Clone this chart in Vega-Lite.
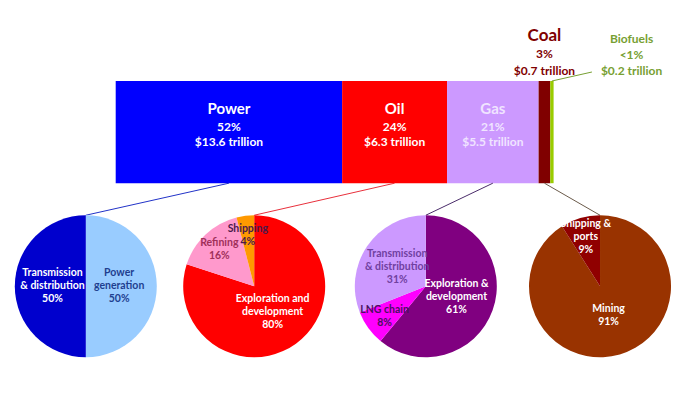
{
  "$schema": "https://vega.github.io/schema/vega-lite/v6.json",
  "width": 685,
  "height": 400,
  "autosize": {"type": "none"},
  "padding": 0,
  "background": "white",
  "config": {"view": {"stroke": null}, "font": "Lato", "text": {"font": "Lato"}},
  "datasets": {
    "sectors": [
      {"sector": "Power", "order": 1, "tn": 13.6, "detail": "52%\n$13.6 trillion"},
      {"sector": "Oil", "order": 2, "tn": 6.3, "detail": "24%\n$6.3 trillion"},
      {"sector": "Gas", "order": 3, "tn": 5.5, "detail": "21%\n$5.5 trillion"},
      {"sector": "Coal", "order": 4, "tn": 0.7, "detail": "3%\n$0.7 trillion"},
      {"sector": "Biofuels", "order": 5, "tn": 0.2, "detail": "<1%\n$0.2 trillion"}
    ],
    "pies": [
      {"sector": "Power", "anchor": -1.796},
      {"sector": "Oil", "anchor": 8.318},
      {"sector": "Gas", "anchor": 18.625},
      {"sector": "Coal", "anchor": 29.088}
    ],
    "slices": [
      {"sector": "Power", "slice": "Power: Power generation", "order": 1, "pct": 50, "label": "Power\ngeneration\n50%"},
      {"sector": "Power", "slice": "Power: Transmission & distribution", "order": 2, "pct": 50, "label": "Transmission\n& distribution\n50%"},
      {"sector": "Oil", "slice": "Oil: Exploration and development", "order": 1, "pct": 80, "label": "Exploration and\ndevelopment\n80%"},
      {"sector": "Oil", "slice": "Oil: Refining", "order": 2, "pct": 16, "label": "Refining\n16%"},
      {"sector": "Oil", "slice": "Oil: Shipping", "order": 3, "pct": 4, "label": "Shipping\n4%"},
      {"sector": "Gas", "slice": "Gas: Exploration & development", "order": 1, "pct": 61, "label": "Exploration &\ndevelopment\n61%"},
      {"sector": "Gas", "slice": "Gas: LNG chain", "order": 2, "pct": 8, "label": "LNG chain\n8%"},
      {"sector": "Gas", "slice": "Gas: Transmission & distribution", "order": 3, "pct": 31, "label": "Transmission\n& distribution\n31%"},
      {"sector": "Coal", "slice": "Coal: Mining", "order": 1, "pct": 91, "label": "Mining\n91%"},
      {"sector": "Coal", "slice": "Coal: Shipping & ports", "order": 2, "pct": 9, "label": "Shipping &\nports\n9%"}
    ]
  },
  "layer": [
    {
      "data": {"name": "sectors"},
      "mark": {"type": "bar", "height": 102.2},
      "encoding": {
        "x": {"field": "tn", "type": "quantitative", "stack": "zero", "scale": {"domain": [-6.949, 34.192], "nice": false, "zero": false}, "axis": null},
        "y": {"datum": "Total", "type": "nominal", "scale": {"type": "point", "domain": ["Total", "Breakdown"], "padding": 0.79745, "align": 0.53732}, "axis": null},
        "color": {"field": "sector", "type": "nominal", "scale": {"domain": ["Power", "Oil", "Gas", "Coal", "Biofuels"], "range": ["#0000FF", "#FF0000", "#CC99FF", "#800000", "#99CC00"]}, "legend": null},
        "order": {"field": "order", "type": "quantitative"}
      }
    },
    {
      "data": {"name": "sectors"},
      "transform": [
        {"stack": "tn", "groupby": [], "sort": [{"field": "order", "order": "ascending"}], "as": ["t0", "t1"]},
        {"fold": ["t0", "t1"], "as": ["edge", "pos"]},
        {"aggregate": [{"op": "mean", "field": "pos", "as": "mid"}], "groupby": ["sector", "order", "detail"]},
        {"lookup": "sector", "from": {"data": {"name": "pies"}, "key": "sector", "fields": ["anchor"]}}
      ],
      "resolve": {"scale": {"color": "independent"}},
      "layer": [
        {
          "transform": [{"filter": "isValid(datum.anchor)"}],
          "mark": {"type": "rule", "strokeWidth": 1, "yOffset": 51.1, "y2Offset": -71},
          "encoding": {
            "x": {"field": "mid", "type": "quantitative", "stack": null, "scale": {"domain": [-6.949, 34.192], "nice": false, "zero": false}, "axis": null},
            "x2": {"field": "anchor"},
            "y": {"datum": "Total", "type": "nominal", "scale": {"type": "point", "domain": ["Total", "Breakdown"], "padding": 0.79745, "align": 0.53732}, "axis": null},
            "y2": {"datum": "Breakdown"},
            "color": {"field": "sector", "type": "nominal", "scale": {"domain": ["Power", "Oil", "Gas", "Coal"], "range": ["#2233C8", "#E8303C", "#4B2D6B", "#6B5B4B"]}, "legend": null}
          }
        },
        {
          "transform": [{"filter": "datum.sector === 'Biofuels'"}],
          "mark": {"type": "rule", "strokeWidth": 1, "color": "#77A032", "yOffset": -51.1, "x2Offset": 40, "y2Offset": -60.1},
          "encoding": {
            "x": {"field": "mid", "type": "quantitative", "stack": null, "scale": {"domain": [-6.949, 34.192], "nice": false, "zero": false}, "axis": null},
            "x2": {"field": "mid"},
            "y": {"datum": "Total", "type": "nominal", "scale": {"type": "point", "domain": ["Total", "Breakdown"], "padding": 0.79745, "align": 0.53732}, "axis": null},
            "y2": {"datum": "Total"}
          }
        },
        {
          "transform": [{"filter": "datum.order <= 3"}],
          "mark": {"type": "text", "fontSize": 15, "fontWeight": "bold", "dy": -22.8},
          "encoding": {
            "x": {"field": "mid", "type": "quantitative", "stack": null, "scale": {"domain": [-6.949, 34.192], "nice": false, "zero": false}, "axis": null},
            "y": {"datum": "Total", "type": "nominal", "scale": {"type": "point", "domain": ["Total", "Breakdown"], "padding": 0.79745, "align": 0.53732}, "axis": null},
            "text": {"field": "sector"},
            "color": {"field": "sector", "type": "nominal", "scale": {"domain": ["Power", "Oil", "Gas"], "range": ["#FFFFFF", "#FFFFFF", "#F0E4FF"]}, "legend": null}
          }
        },
        {
          "transform": [{"filter": "datum.order <= 3"}],
          "mark": {"type": "text", "fontSize": 12, "fontWeight": "bold", "lineBreak": "\n", "lineHeight": 15, "dy": -4.8},
          "encoding": {
            "x": {"field": "mid", "type": "quantitative", "stack": null, "scale": {"domain": [-6.949, 34.192], "nice": false, "zero": false}, "axis": null},
            "y": {"datum": "Total", "type": "nominal", "scale": {"type": "point", "domain": ["Total", "Breakdown"], "padding": 0.79745, "align": 0.53732}, "axis": null},
            "text": {"field": "detail"},
            "color": {"field": "sector", "type": "nominal", "scale": {"domain": ["Power", "Oil", "Gas"], "range": ["#FFFFFF", "#FFFFFF", "#F0E4FF"]}, "legend": null}
          }
        },
        {
          "transform": [{"filter": "datum.sector === 'Coal'"}],
          "mark": {"type": "text", "fontSize": 17, "fontWeight": "bold", "color": "#7F0000", "dy": -96.1},
          "encoding": {
            "x": {"field": "mid", "type": "quantitative", "stack": null, "scale": {"domain": [-6.949, 34.192], "nice": false, "zero": false}, "axis": null},
            "y": {"datum": "Total", "type": "nominal", "scale": {"type": "point", "domain": ["Total", "Breakdown"], "padding": 0.79745, "align": 0.53732}, "axis": null},
            "text": {"field": "sector"}
          }
        },
        {
          "transform": [{"filter": "datum.sector === 'Coal'"}],
          "mark": {"type": "text", "fontSize": 12, "fontWeight": "bold", "color": "#7F0000", "lineBreak": "\n", "lineHeight": 17, "dy": -78.1},
          "encoding": {
            "x": {"field": "mid", "type": "quantitative", "stack": null, "scale": {"domain": [-6.949, 34.192], "nice": false, "zero": false}, "axis": null},
            "y": {"datum": "Total", "type": "nominal", "scale": {"type": "point", "domain": ["Total", "Breakdown"], "padding": 0.79745, "align": 0.53732}, "axis": null},
            "text": {"field": "detail"}
          }
        },
        {
          "transform": [{"filter": "datum.sector === 'Biofuels'"}],
          "mark": {"type": "text", "fontSize": 12, "fontWeight": "bold", "color": "#77A032", "dx": 79.6, "dy": -93.1},
          "encoding": {
            "x": {"field": "mid", "type": "quantitative", "stack": null, "scale": {"domain": [-6.949, 34.192], "nice": false, "zero": false}, "axis": null},
            "y": {"datum": "Total", "type": "nominal", "scale": {"type": "point", "domain": ["Total", "Breakdown"], "padding": 0.79745, "align": 0.53732}, "axis": null},
            "text": {"field": "sector"}
          }
        },
        {
          "transform": [{"filter": "datum.sector === 'Biofuels'"}],
          "mark": {"type": "text", "fontSize": 12, "fontWeight": "bold", "color": "#77A032", "lineBreak": "\n", "lineHeight": 16, "dx": 79.6, "dy": -77.6},
          "encoding": {
            "x": {"field": "mid", "type": "quantitative", "stack": null, "scale": {"domain": [-6.949, 34.192], "nice": false, "zero": false}, "axis": null},
            "y": {"datum": "Total", "type": "nominal", "scale": {"type": "point", "domain": ["Total", "Breakdown"], "padding": 0.79745, "align": 0.53732}, "axis": null},
            "text": {"field": "detail"}
          }
        }
      ]
    },
    {
      "data": {"name": "slices"},
      "transform": [
        {"stack": "pct", "groupby": ["sector"], "sort": [{"field": "order", "order": "ascending"}], "as": ["t0", "t1"]},
        {"lookup": "sector", "from": {"data": {"name": "pies"}, "key": "sector", "fields": ["anchor"]}}
      ],
      "resolve": {"scale": {"color": "independent"}},
      "layer": [
        {
          "mark": {"type": "arc", "outerRadius": 71},
          "encoding": {
            "x": {"field": "anchor", "type": "quantitative", "stack": null, "scale": {"domain": [-6.949, 34.192], "nice": false, "zero": false}, "axis": null},
            "y": {"datum": "Breakdown", "type": "nominal", "scale": {"type": "point", "domain": ["Total", "Breakdown"], "padding": 0.79745, "align": 0.53732}, "axis": null},
            "theta": {"field": "t0", "type": "quantitative", "stack": null, "scale": {"domain": [0, 100]}},
            "theta2": {"field": "t1"},
            "color": {"field": "slice", "type": "nominal", "scale": {
              "domain": ["Power: Power generation", "Power: Transmission & distribution", "Oil: Exploration and development", "Oil: Refining", "Oil: Shipping", "Gas: Exploration & development", "Gas: LNG chain", "Gas: Transmission & distribution", "Coal: Mining", "Coal: Shipping & ports"],
              "range": ["#99CCFF", "#0000CD", "#FF0000", "#FF99CC", "#FF9900", "#800080", "#FF00FF", "#CC99FF", "#993300", "#900000"]}, "legend": null}
          }
        },
        {
          "transform": [
            {"filter": "length(split(datum.label, '\\n')) === 3"},
            {"fold": ["t0", "t1"], "as": ["edge", "pos"]},
            {"aggregate": [{"op": "mean", "field": "pos", "as": "mid"}], "groupby": ["sector", "slice", "label", "pct", "anchor"]}
          ],
          "mark": {"type": "text", "fontSize": 10.5, "fontWeight": "bold", "lineBreak": "\n", "lineHeight": 13, "dy": -13},
          "encoding": {
            "x": {"field": "anchor", "type": "quantitative", "stack": null, "scale": {"domain": [-6.949, 34.192], "nice": false, "zero": false}, "axis": null},
            "y": {"datum": "Breakdown", "type": "nominal", "scale": {"type": "point", "domain": ["Total", "Breakdown"], "padding": 0.79745, "align": 0.53732}, "axis": null},
            "theta": {"field": "mid", "type": "quantitative", "stack": null, "scale": {"domain": [0, 100]}},
            "radius": {"field": "pct", "type": "quantitative", "scale": {"type": "linear", "domain": [0, 18, 25, 100], "range": [51, 51, 35, 30]}},
            "text": {"field": "label"},
            "color": {"field": "slice", "type": "nominal", "scale": {
              "domain": ["Power: Power generation", "Power: Transmission & distribution", "Oil: Exploration and development", "Oil: Refining", "Oil: Shipping", "Gas: Exploration & development", "Gas: LNG chain", "Gas: Transmission & distribution", "Coal: Mining", "Coal: Shipping & ports"],
              "range": ["#1F3F8F", "#FFFFFF", "#FFFFFF", "#A0305A", "#4B1A4B", "#FFFFFF", "#4B1060", "#7040A0", "#FFFFFF", "#FFFFFF"]}, "legend": null}
          }
        },
        {
          "transform": [
            {"filter": "length(split(datum.label, '\\n')) === 2"},
            {"fold": ["t0", "t1"], "as": ["edge", "pos"]},
            {"aggregate": [{"op": "mean", "field": "pos", "as": "mid"}], "groupby": ["sector", "slice", "label", "pct", "anchor"]}
          ],
          "mark": {"type": "text", "fontSize": 10.5, "fontWeight": "bold", "lineBreak": "\n", "lineHeight": 13, "dy": -6.5},
          "encoding": {
            "x": {"field": "anchor", "type": "quantitative", "stack": null, "scale": {"domain": [-6.949, 34.192], "nice": false, "zero": false}, "axis": null},
            "y": {"datum": "Breakdown", "type": "nominal", "scale": {"type": "point", "domain": ["Total", "Breakdown"], "padding": 0.79745, "align": 0.53732}, "axis": null},
            "theta": {"field": "mid", "type": "quantitative", "stack": null, "scale": {"domain": [0, 100]}},
            "radius": {"field": "pct", "type": "quantitative", "scale": {"type": "linear", "domain": [0, 18, 25, 100], "range": [51, 51, 35, 30]}},
            "text": {"field": "label"},
            "color": {"field": "slice", "type": "nominal", "scale": {
              "domain": ["Power: Power generation", "Power: Transmission & distribution", "Oil: Exploration and development", "Oil: Refining", "Oil: Shipping", "Gas: Exploration & development", "Gas: LNG chain", "Gas: Transmission & distribution", "Coal: Mining", "Coal: Shipping & ports"],
              "range": ["#1F3F8F", "#FFFFFF", "#FFFFFF", "#A0305A", "#4B1A4B", "#FFFFFF", "#4B1060", "#7040A0", "#FFFFFF", "#FFFFFF"]}, "legend": null}
          }
        }
      ]
    }
  ]
}
